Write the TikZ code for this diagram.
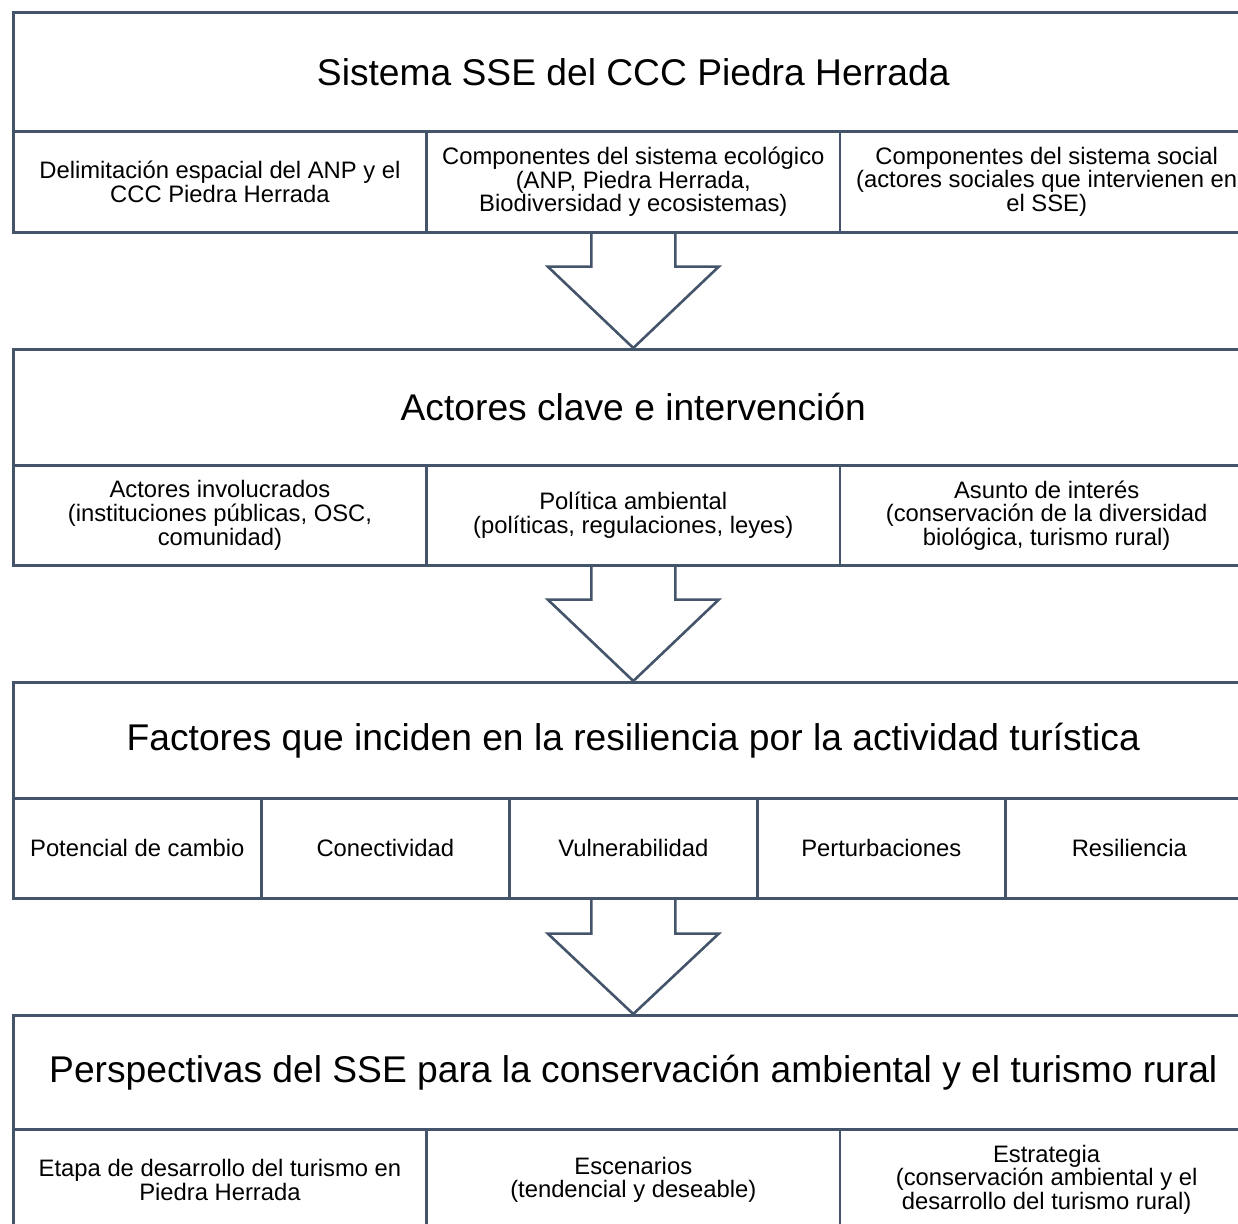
\documentclass[tikz,border=0pt]{standalone}
\usepackage{fontspec}
\setmainfont{Liberation Sans}
\usepackage{tikz}
\usetikzlibrary{positioning}
\definecolor{slate}{HTML}{44546A}

\tikzset{
  cell/.style={draw=slate, line width=1.3pt, anchor=north west, inner sep=0pt, align=center, font=\fontsize{11.9}{11.8}\selectfont},
  titlecell/.style={cell, minimum width=620pt, font=\fontsize{18.6}{22}\selectfont},
  thirdcell/.style={cell, minimum width=206.67pt, minimum height=50.5pt},
  fifthcell/.style={cell, minimum width=124pt, minimum height=50pt},
  blockarrow/.style={draw=slate, line width=1.3pt, line join=miter}
}

\begin{document}
\begin{tikzpicture}[x=0.5pt,y=-0.5pt]
\useasboundingbox (0,0) rectangle (1238,1223);
\clip (0,0) rectangle (1238,1223);

% bloque 1
\node[titlecell, minimum height=59.5pt] (titleA) at (12,11) {Sistema SSE del CCC Piedra Herrada};
\node[thirdcell] (subA1) at (12,130) {Delimitación espacial del ANP y el\\CCC Piedra Herrada};
\node[thirdcell] (subA2) at (425.33,130) {Componentes del sistema ecológico\\(ANP, Piedra Herrada,\\Biodiversidad y ecosistemas)};
\node[thirdcell] (subA3) at (838.67,130) {Componentes del sistema social\\(actores sociales que intervienen en\\el SSE)};

% bloque 2
\node[titlecell, minimum height=58pt] (titleB) at (12,348) {Actores clave e intervención};
\node[thirdcell, minimum height=50pt] (subB1) at (12,464) {Actores involucrados\\(instituciones públicas, OSC,\\comunidad)};
\node[thirdcell, minimum height=50pt] (subB2) at (425.33,464) {Política ambiental\\(políticas, regulaciones, leyes)};
\node[thirdcell, minimum height=50pt] (subB3) at (838.67,464) {Asunto de interés\\(conservación de la diversidad\\biológica, turismo rural)};

% bloque 3
\node[titlecell, minimum height=58pt] (titleC) at (12,681) {Factores que inciden en la resiliencia por la actividad turística};
\node[fifthcell] (subC1) at (12,797) {Potencial de cambio};
\node[fifthcell] (subC2) at (260,797) {Conectividad};
\node[fifthcell] (subC3) at (508,797) {Vulnerabilidad};
\node[fifthcell] (subC4) at (756,797) {Perturbaciones};
\node[fifthcell] (subC5) at (1004,797) {Resiliencia};

% bloque 4
\node[titlecell, minimum height=57pt] (titleD) at (12,1014) {Perspectivas del SSE para la conservación ambiental y el turismo rural};
\node[thirdcell] (subD1) at (12,1128) {Etapa de desarrollo del turismo en\\Piedra Herrada};
\node[thirdcell] (subD2) at (425.33,1128) {Escenarios\\(tendencial y deseable)};
\node[thirdcell] (subD3) at (838.67,1128) {Estrategia\\(conservación ambiental y el\\desarrollo del turismo rural)};

% flechas
\draw[blockarrow] ([xshift=-21pt]subA2.south) -- ++(0pt,-16.5pt) -- ++(-21.75pt,0pt) -- (titleB.north)
  -- ([xshift=42.75pt,yshift=-16.5pt]subA2.south) -- ([xshift=21pt,yshift=-16.5pt]subA2.south) -- ([xshift=21pt]subA2.south);
\draw[blockarrow] ([xshift=-21pt]subB2.south) -- ++(0pt,-16.5pt) -- ++(-21.75pt,0pt) -- (titleC.north)
  -- ([xshift=42.75pt,yshift=-16.5pt]subB2.south) -- ([xshift=21pt,yshift=-16.5pt]subB2.south) -- ([xshift=21pt]subB2.south);
\draw[blockarrow] ([xshift=-21pt]subC3.south) -- ++(0pt,-17pt) -- ++(-21.75pt,0pt) -- (titleD.north)
  -- ([xshift=42.75pt,yshift=-17pt]subC3.south) -- ([xshift=21pt,yshift=-17pt]subC3.south) -- ([xshift=21pt]subC3.south);
\end{tikzpicture}
\end{document}
